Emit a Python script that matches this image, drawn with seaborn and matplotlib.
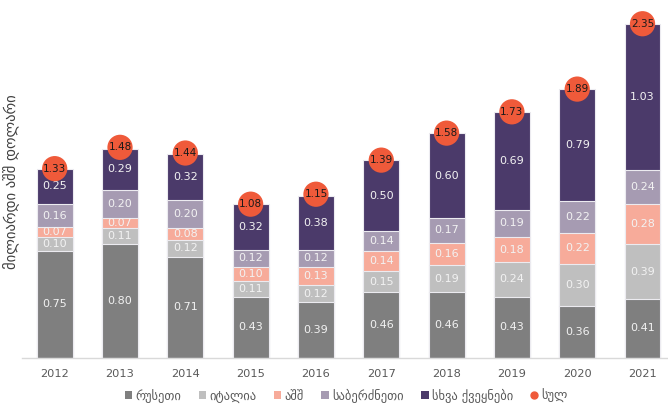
import numpy as np
import pandas as pd
import matplotlib
matplotlib.use("Agg")
import matplotlib.pyplot as plt
from matplotlib.lines import Line2D
from matplotlib.patches import Patch
import seaborn as sns

# -----------------------------------------------------------------------------
# DATA (billion USD)
# -----------------------------------------------------------------------------
years = ["2012", "2013", "2014", "2015", "2016", "2017", "2018", "2019", "2020", "2021"]
russia = [0.75, 0.80, 0.71, 0.43, 0.39, 0.46, 0.46, 0.43, 0.36, 0.41]
italy = [0.10, 0.11, 0.12, 0.11, 0.12, 0.15, 0.19, 0.24, 0.30, 0.39]
usa = [0.07, 0.07, 0.08, 0.10, 0.13, 0.14, 0.16, 0.18, 0.22, 0.28]
greece = [0.16, 0.20, 0.20, 0.12, 0.12, 0.14, 0.17, 0.19, 0.22, 0.24]
other = [0.25, 0.29, 0.32, 0.32, 0.38, 0.50, 0.60, 0.69, 0.79, 1.03]
total = [1.33, 1.48, 1.44, 1.08, 1.15, 1.39, 1.58, 1.73, 1.89, 2.35]

series_names = ["რუსეთი", "იტალია", "აშშ", "საბერძნეთი", "სხვა ქვეყნები"]
series_vals = [russia, italy, usa, greece, other]
colors = ["#7f7f7f", "#bfbfbf", "#f7ab9a", "#a69bb2", "#4b3a6a"]
total_name = "სულ"
total_color = "#ef5a3a"
ylabel = "მილიარდი აშშ დოლარი"

df = pd.DataFrame(dict(zip(series_names, series_vals)), index=years)
cum = df.cumsum(axis=1)
bottoms = cum - df

# -----------------------------------------------------------------------------
# PLOT
# -----------------------------------------------------------------------------
sns.set_style("white")
plt.rcParams["font.family"] = ["DejaVu Sans"]

fig = plt.figure(figsize=(6.68, 4.05), dpi=100)
ax = fig.add_axes([0.033, 0.117, 0.967, 0.870])

# draw cumulative bars from top layer down so lower layers cover upper ones
for name, col in reversed(list(zip(series_names, colors))):
    sns.barplot(x=years, y=cum[name].values, color=col, width=0.55,
                edgecolor="#ecebf0", linewidth=0.8, saturation=1, ax=ax)

# segment labels
for i, yr in enumerate(years):
    for name in series_names:
        v = df.loc[yr, name]
        mid = bottoms.loc[yr, name] + v / 2
        ax.text(i, mid, f"{v:.2f}", ha="center", va="center",
                color="#f2f2f2", fontsize=8)

# totals: circles on top of bars
ax.scatter(range(len(years)), total, s=330, color=total_color, zorder=5,
           edgecolors="none", clip_on=False)
for i, t in enumerate(total):
    ax.text(i, t, f"{t:.2f}", ha="center", va="center", color="#1a1a1a",
            fontsize=7.5, zorder=6)

ax.set_ylim(0, 2.48)
ax.set_xlim(-0.5, 9.39)
ax.set_yticks([])
ax.set_ylabel(ylabel, fontsize=10.5, color="#404040")
ax.yaxis.set_label_coords(-0.004, 0.5)
ax.tick_params(axis="x", length=0, labelsize=8.2, labelcolor="#595959", pad=8)
for s in ["top", "right", "left"]:
    ax.spines[s].set_visible(False)
ax.spines["bottom"].set_color("#d9d9d9")
ax.spines["bottom"].set_linewidth(1)

handles = [Patch(facecolor=c, edgecolor="none") for c in colors]
handles.append(Line2D([], [], marker="o", linestyle="none", color=total_color, markersize=5))
fig.legend(handles, series_names + [total_name], loc="lower center",
           bbox_to_anchor=(0.518, -0.022), ncol=6, frameon=False, fontsize=9,
           handlelength=0.6, handleheight=0.6, handletextpad=0.25,
           columnspacing=1.4, labelcolor="#595959")

fig.savefig("out.png", dpi=100)
